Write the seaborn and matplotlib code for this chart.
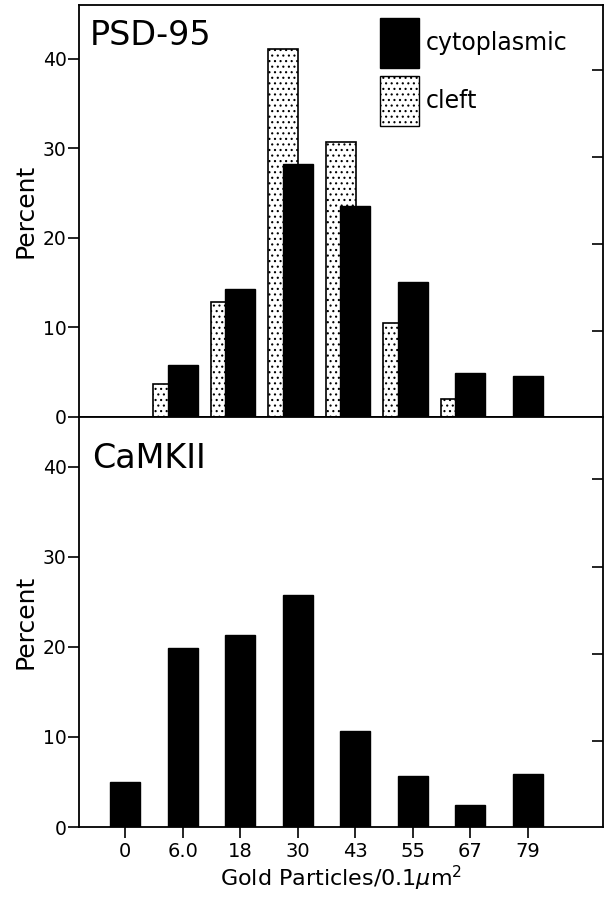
import numpy as np
import pandas as pd
import seaborn as sns
import matplotlib.pyplot as plt
from matplotlib.patches import Patch

sns.set_theme(style="white")
plt.rcParams["font.family"] = ["DejaVu Sans"]
plt.rcParams["hatch.linewidth"] = 0.8
plt.rcParams["text.color"] = "black"
plt.rcParams["axes.labelcolor"] = "black"
plt.rcParams["xtick.color"] = "black"
plt.rcParams["ytick.color"] = "black"

# 数据
bins = ["0", "6.0", "18", "30", "43", "55", "67", "79"]
psd_cyto = [np.nan, 5.8, 14.3, 28.2, 23.6, 15.1, 4.9, 4.6]
psd_cleft = [np.nan, 3.7, 12.8, 41.1, 30.7, 10.5, 2.0, np.nan]
camk = [5.0, 19.9, 21.3, 25.7, 10.7, 5.7, 2.4, 5.9]
right_ticks_top = [9.6, 19.3, 29.0, 38.7]
right_ticks_bot = [9.5, 19.2, 28.9, 38.6]

pos = np.arange(len(bins))
psd = pd.DataFrame({"pos": pos, "cyto": psd_cyto, "cleft": psd_cleft})
cleft_df = psd.dropna(subset=["cleft"]).assign(x=lambda d: d.pos - 0.25)
cyto_df = psd.dropna(subset=["cyto"])
camk_df = pd.DataFrame({"pos": pos, "val": camk})

fig = plt.figure(figsize=(6.08, 9), dpi=100)
ax1 = fig.add_axes([0.130, 0.5367, 0.862, 0.4578])
ax2 = fig.add_axes([0.130, 0.0811, 0.862, 0.4556])

# 上图 PSD-95
sns.barplot(data=cleft_df, x="x", y="cleft", native_scale=True, width=0.52,
            color="white", edgecolor="black", linewidth=1.2, hatch="...",
            saturation=1, ax=ax1)
sns.barplot(data=cyto_df, x="pos", y="cyto", native_scale=True, width=0.52,
            color="black", edgecolor="black", linewidth=1,
            saturation=1, ax=ax1)
ax1.set_ylim(0, 46)
ax1.set_yticks([0, 10, 20, 30, 40])
ax1.set_xticks([])
ax1.text(0.021, 0.965, "PSD-95", transform=ax1.transAxes, fontsize=24,
         va="top", ha="left")
handles = [Patch(facecolor="black", edgecolor="black", label="cytoplasmic"),
           Patch(facecolor="white", edgecolor="black", hatch="...", label="cleft")]
ax1.legend(handles=handles, loc="upper left", bbox_to_anchor=(0.575, 0.968),
           frameon=False, fontsize=17, handlelength=1.65, handleheight=2.9,
           handletextpad=0.25, labelspacing=0.3, borderpad=0, borderaxespad=0)

# 下图 CaMKII
sns.barplot(data=camk_df, x="pos", y="val", native_scale=True, width=0.52,
            color="black", edgecolor="black", linewidth=1,
            saturation=1, ax=ax2)
ax2.set_ylim(0, 45.5)
ax2.set_yticks([0, 10, 20, 30, 40])
ax2.set_xticks(pos)
ax2.set_xticklabels(bins)
ax2.text(0.025, 0.94, "CaMKII", transform=ax2.transAxes, fontsize=24,
         va="top", ha="left")
ax2.set_xlabel(r"Gold Particles/0.1$\mu$m$^{2}$", fontsize=16, labelpad=2)
ax2.yaxis.get_major_ticks()[0].tick1line.set_visible(False)

for ax, rt in [(ax1, right_ticks_top), (ax2, right_ticks_bot)]:
    ax.set_xlim(-0.8, 8.31)
    ax.set_ylabel("Percent", fontsize=18, labelpad=4)
    ax.tick_params(axis="y", direction="out", length=8, width=1.2,
                   labelsize=13.5, pad=1, left=True)
    ax.tick_params(axis="x", direction="out", length=8, width=1.2,
                   labelsize=14, pad=3, bottom=True)
    for s in ax.spines.values():
        s.set_color("black")
        s.set_linewidth(1.3)
    tw = ax.twinx()
    tw.set_ylim(ax.get_ylim())
    tw.set_yticks(rt)
    tw.set_yticklabels([])
    tw.tick_params(axis="y", direction="in", length=8, width=1.2, right=True)
    for s in tw.spines.values():
        s.set_visible(False)

ax1.tick_params(axis="x", bottom=False)

fig.savefig("out.png", dpi=100)
